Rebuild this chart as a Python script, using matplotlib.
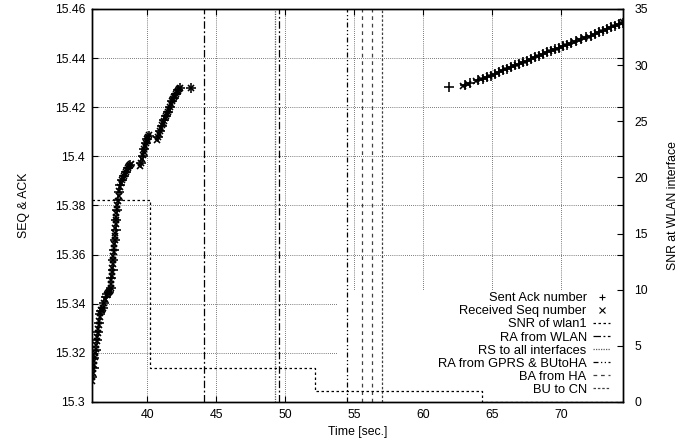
import matplotlib.pyplot as plt
from matplotlib.patches import Rectangle
from matplotlib.ticker import FormatStrFormatter

plt.rcParams['font.family'] = ['Liberation Sans', 'DejaVu Sans']
plt.rcParams['font.size'] = 8.8

# received sequence numbers (x marks), left axis
seq_t = [35.99, 36.02, 36.06, 36.09, 36.13, 36.17, 36.20, 36.24, 36.27, 36.31,
         36.35, 36.39, 36.42, 36.46, 36.49, 36.53, 36.57, 36.61,
         36.66, 36.74, 36.82, 36.90, 36.97, 37.05, 37.13, 37.22, 37.30,
         37.34, 37.37, 37.40, 37.43, 37.45, 37.48, 37.50, 37.53, 37.55, 37.57,
         37.59, 37.61, 37.63, 37.65, 37.67, 37.69, 37.71, 37.73, 37.75, 37.77,
         37.80, 37.83,
         37.87, 37.92, 37.98, 38.04, 38.10, 38.17, 38.25, 38.32, 38.39, 38.47,
         38.54, 38.61, 38.68, 38.75, 38.80,
         39.51, 39.56, 39.62, 39.67, 39.73, 39.79, 39.84, 39.90, 39.95, 40.01,
         40.07, 40.13,
         40.71, 40.79, 40.86, 40.93, 41.00, 41.07, 41.14, 41.22, 41.29, 41.36,
         41.43, 41.51, 41.58, 41.65, 41.72, 41.80, 41.87, 41.94, 42.01, 42.09,
         42.16, 42.23, 42.30, 42.36, 43.17,
         62.88, 63.25, 63.83, 64.19, 64.48, 64.77, 65.06, 65.35, 65.64, 65.93,
         66.22, 66.51, 66.80, 67.09, 67.38, 67.67, 67.96, 68.25, 68.54, 68.83,
         69.12, 69.41, 69.71, 70.00, 70.29, 70.58, 70.93, 71.29, 71.65, 72.01,
         72.30, 72.59, 72.88, 73.17, 73.46, 73.75, 74.04, 74.33, 74.45]
seq_val = [15.3086, 15.3103, 15.3118, 15.3136, 15.3151, 15.3168, 15.3183, 15.3201, 15.3216, 15.3232,
           15.3249, 15.3265, 15.3280, 15.3298, 15.3313, 15.3330, 15.3345, 15.3362,
           15.3373, 15.3376, 15.3384, 15.3405, 15.3420, 15.3436, 15.3443, 15.3447, 15.3450,
           15.3465, 15.3481, 15.3497, 15.3512, 15.3528, 15.3545, 15.3561, 15.3577, 15.3594, 15.3610,
           15.3626, 15.3642, 15.3658, 15.3675, 15.3690, 15.3707, 15.3723, 15.3739, 15.3755, 15.3771,
           15.3787, 15.3802,
           15.3820, 15.3838, 15.3857, 15.3874, 15.3890, 15.3902, 15.3912, 15.3920, 15.3928, 15.3937,
           15.3945, 15.3953, 15.3961, 15.3966, 15.3970,
           15.3961, 15.3975, 15.3989, 15.4004, 15.4018, 15.4030, 15.4042, 15.4053, 15.4063, 15.4071,
           15.4079, 15.4087,
           15.4067, 15.4079, 15.4091, 15.4104, 15.4116, 15.4126, 15.4136, 15.4146, 15.4156, 15.4165,
           15.4173, 15.4181, 15.4189, 15.4201, 15.4213, 15.4224, 15.4234, 15.4240, 15.4246, 15.4254,
           15.4262, 15.4268, 15.4274, 15.4277, 15.4278,
           15.4287, 15.4293, 15.4307, 15.4315, 15.4321, 15.4327, 15.4333, 15.4340, 15.4348, 15.4354,
           15.4360, 15.4368, 15.4374, 15.4380, 15.4386, 15.4392, 15.4401, 15.4407, 15.4413, 15.4421,
           15.4427, 15.4433, 15.4439, 15.4445, 15.4452, 15.4458, 15.4466, 15.4474, 15.4482, 15.4488,
           15.4494, 15.4502, 15.4509, 15.4515, 15.4523, 15.4529, 15.4535, 15.4543, 15.4547]

# sent acknowledgements (+ marks), left axis
ack_t = [36.02, 36.11, 36.18, 36.28, 36.36, 36.43, 36.51, 36.58, 36.67, 36.78,
         36.88, 37.00, 37.10, 37.23, 37.34, 37.41, 37.49, 37.55, 37.61, 37.66,
         37.71, 37.76, 37.80, 37.86, 37.94, 38.04, 38.17, 38.32, 38.46, 38.61,
         38.75, 39.57, 39.68, 39.78, 39.90, 40.00, 40.10, 40.78, 40.93, 41.07,
         41.22, 41.36, 41.51, 41.65, 41.80, 41.94, 42.09, 42.23, 42.38, 43.17,
         61.87, 63.01, 63.39, 63.97, 64.33, 64.62, 64.91, 65.20, 65.49, 65.78,
         66.07, 66.36, 66.65, 66.94, 67.23, 67.52, 67.81, 68.10, 68.39, 68.68,
         68.97, 69.26, 69.55, 69.84, 70.14, 70.43, 70.72, 71.09, 71.45, 71.81,
         72.17, 72.46, 72.75, 73.03, 73.32, 73.61, 73.90, 74.19, 74.44]
ack_val = [15.3102, 15.3138, 15.3179, 15.3212, 15.3252, 15.3285, 15.3322, 15.3358, 15.3371, 15.3383,
           15.3403, 15.3428, 15.3440, 15.3448, 15.3464, 15.3505, 15.3537, 15.3578, 15.3619, 15.3660,
           15.3700, 15.3741, 15.3782, 15.3822, 15.3855, 15.3884, 15.3904, 15.3920, 15.3937, 15.3953,
           15.3965, 15.3973, 15.4002, 15.4030, 15.4055, 15.4071, 15.4083, 15.4079, 15.4104, 15.4124,
           15.4148, 15.4165, 15.4181, 15.4201, 15.4226, 15.4238, 15.4254, 15.4270, 15.4278, 15.4278,
           15.4283, 15.4290, 15.4298, 15.4309, 15.4317, 15.4323, 15.4329, 15.4336, 15.4344, 15.4351,
           15.4357, 15.4364, 15.4371, 15.4377, 15.4383, 15.4389, 15.4397, 15.4404, 15.4410, 15.4417,
           15.4424, 15.4430, 15.4436, 15.4442, 15.4449, 15.4455, 15.4462, 15.4470, 15.4478, 15.4485,
           15.4491, 15.4498, 15.4505, 15.4512, 15.4519, 15.4526, 15.4532, 15.4539, 15.4545]

# SNR of wlan1 (step), right axis
snr_t = [36.0, 40.2, 52.15, 64.25, 74.5]
snr_val = [18, 3, 1, 0, 0]

# signalling events (seconds)
ra_wlan_t = [44.12, 49.57]
rs_all_t = [49.26]
ra_gprs_t = [54.5]
ba_ha_t = [55.54, 56.26]
bu_cn_t = [56.99]

fig = plt.figure(figsize=(6.96, 4.43), dpi=100)
ax = fig.add_axes([0.1322, 0.0926, 0.7629, 0.8871])
ax2 = ax.twinx()

ax.set_xlim(36, 74.46)
ax.set_ylim(15.3, 15.46)
ax2.set_ylim(0, 35)
ax.set_xticks([40, 45, 50, 55, 60, 65, 70])
ax.set_yticks([15.3, 15.32, 15.34, 15.36, 15.38, 15.4, 15.42, 15.44, 15.46])
ax.yaxis.set_major_formatter(FormatStrFormatter('%g'))
ax2.set_yticks([0, 5, 10, 15, 20, 25, 30, 35])

ax.grid(True, color='black', linestyle=(0, (1, 2)), linewidth=0.5)
ax.set_axisbelow(True)
ax.tick_params(direction='in', length=4.5, width=0.8, top=True, right=True, pad=5)
ax2.tick_params(direction='in', length=4.5, width=0.8, pad=8)
for a in (ax, ax2):
    for s in a.spines.values():
        s.set_linewidth(1.0)

# key area is left blank in the grid
ax.add_patch(Rectangle((0.461, 0.0), 0.539, 0.285, transform=ax.transAxes,
                       facecolor='white', edgecolor='none', zorder=0.8))

h1, = ax.plot(ack_t, ack_val, linestyle='none', marker='+', markersize=6.5,
              markeredgewidth=1.15, color='black', label='Sent Ack number', zorder=3)
h2, = ax.plot(seq_t, seq_val, linestyle='none', marker='x', markersize=5,
              markeredgewidth=1.15, color='black', label='Received Seq number', zorder=3)

h3, = ax2.step(snr_t, snr_val, where='post', color='black', linewidth=0.9,
               linestyle=(0, (2, 2)), label='SNR of wlan1')

ev_styles = [
    (ra_wlan_t, (0, (6, 2, 1.5, 2)), 'black', 'RA from WLAN'),
    (rs_all_t, (0, (1, 1)), '0.35', 'RS to all interfaces'),
    (ra_gprs_t, (0, (4, 2, 1, 2, 1, 2)), 'black', 'RA from GPRS & BUtoHA'),
    (ba_ha_t, (0, (3, 3)), '0.25', 'BA from HA'),
    (bu_cn_t, (0, (2, 1.5)), '0.25', 'BU to CN'),
]
ev_handles = []
for ts, ls, col, lab in ev_styles:
    hh = None
    for t in ts:
        hh = ax.axvline(t, color=col, linestyle=ls, linewidth=0.9, zorder=2)
    hh.set_label(lab)
    ev_handles.append(hh)

handles = [h1, h2, h3] + ev_handles
leg = ax.legend(handles, [h.get_label() for h in handles], loc='lower right',
                bbox_to_anchor=(0.99, -0.004), frameon=False, markerfirst=False,
                handlelength=1.3, handletextpad=0.5, labelspacing=0.08,
                borderaxespad=0.2, fontsize=9.3)
for lh in leg.legend_handles[:2]:
    lh.set_markeredgewidth(0.8)
    lh.set_markersize(4.5)

ax.set_xlabel('Time [sec.]', labelpad=4)
ax.set_ylabel('SEQ & ACK', labelpad=18)
ax2.set_ylabel('SNR at WLAN interface', labelpad=14)

fig.savefig('out.png', dpi=100)
